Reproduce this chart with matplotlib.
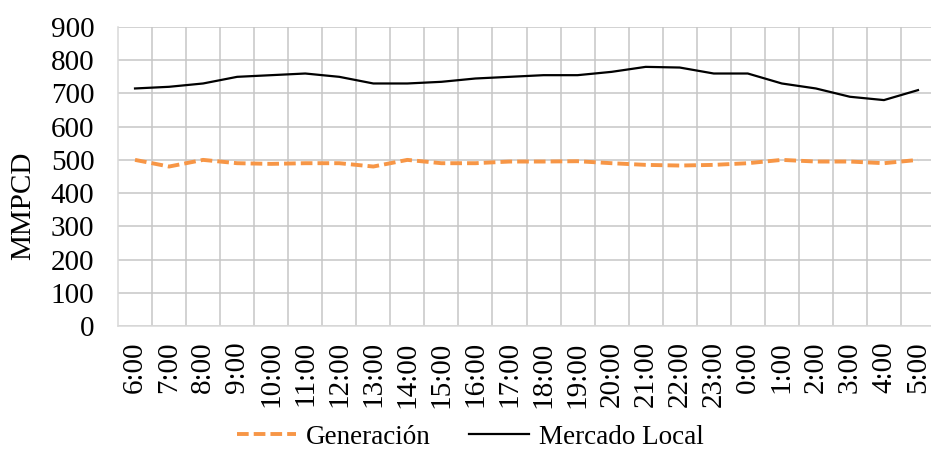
import numpy as np
import matplotlib
matplotlib.use("Agg")
import matplotlib.pyplot as plt

hours = ["6:00", "7:00", "8:00", "9:00", "10:00", "11:00", "12:00", "13:00",
         "14:00", "15:00", "16:00", "17:00", "18:00", "19:00", "20:00", "21:00",
         "22:00", "23:00", "0:00", "1:00", "2:00", "3:00", "4:00", "5:00"]
generacion = [500, 480, 500, 490, 488, 490, 490, 480, 500, 490, 490, 495,
              495, 496, 490, 485, 483, 485, 490, 500, 495, 495, 490, 500]
mercado_local = [715, 720, 730, 750, 755, 760, 750, 730, 730, 735, 745, 750,
                 755, 755, 765, 780, 778, 760, 760, 730, 715, 690, 680, 710]
yticks = [0, 100, 200, 300, 400, 500, 600, 700, 800, 900]

plt.rcParams['font.family'] = ['Liberation Serif', 'DejaVu Serif']
plt.rcParams['font.size'] = 21

fig = plt.figure(figsize=(9.31, 4.5), dpi=100)
ax = fig.add_axes([118/931, 1 - 326/450, 817/931, 299/450])

x = np.arange(len(hours))
ax.plot(x, generacion, color="#F79646", lw=2.8, ls=(0, (3.0, 1.3)),
        label="Generación")
ax.plot(x, mercado_local, color="black", lw=1.6, label="Mercado Local")

ax.set_xlim(-0.5, len(hours) - 0.5)
ax.set_ylim(0, 900)
ax.set_yticks(yticks)
ax.set_xticks(x)
ax.set_xticklabels(hours, rotation=90)
ax.set_xticks(np.arange(0.5, len(hours) - 0.5, 1), minor=True)
ax.tick_params(which="both", length=0)
ax.tick_params(axis="x", pad=11)
ax.tick_params(axis="y", pad=17)
ax.grid(False)
ax.grid(True, which="minor", axis="x", color="#c6c6c6", lw=1.1)
ax.grid(True, which="major", axis="y", color="#c6c6c6", lw=1.1)
ax.set_axisbelow(True)
for side in ["top", "right"]:
    ax.spines[side].set_visible(False)
for side in ["left", "bottom"]:
    ax.spines[side].set_color("#d9d9d9")
    ax.spines[side].set_linewidth(1.1)
ax.set_ylabel("MMPCD", va="center")
ax.yaxis.set_label_coords((23 - 118)/817, (326 - 206)/299)

fig.legend(loc="center", bbox_to_anchor=(470/931, 1 - 437/450), ncol=2,
           frameon=False, fontsize=19.5, handlelength=2.2, columnspacing=1.4,
           handletextpad=0.37, borderaxespad=0, borderpad=0)

fig.savefig("out.png", dpi=100)
plt.close()
